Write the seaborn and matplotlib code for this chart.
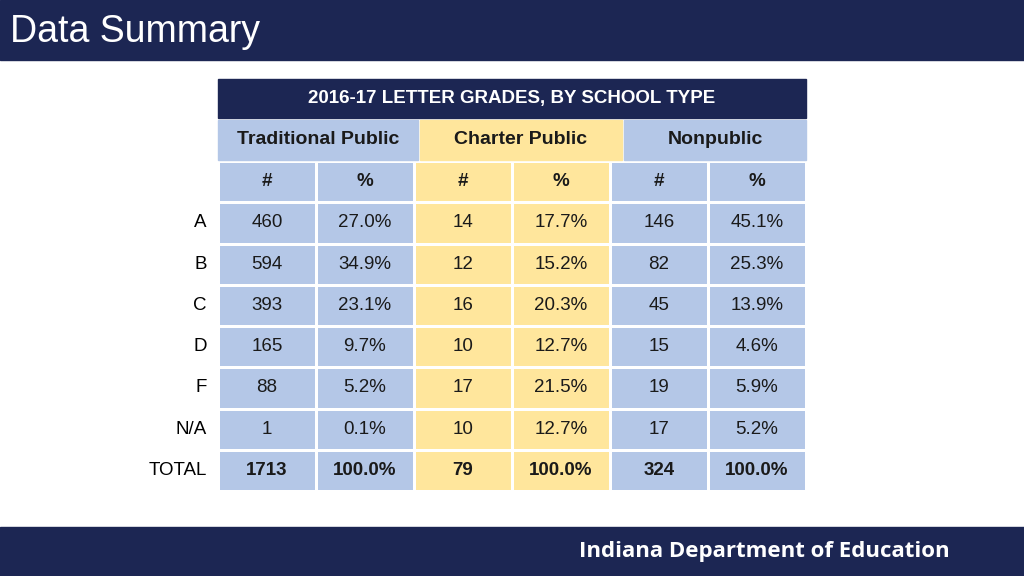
import numpy as np
import matplotlib.pyplot as plt
import seaborn as sns
from matplotlib.colors import ListedColormap
from matplotlib.patches import Rectangle

plt.rcParams["font.family"] = "Liberation Sans"

NAVY = "#1c2653"
BLUE = "#b4c7e7"
YELLOW = "#ffe69c"

title = "2016-17 LETTER GRADES, BY SCHOOL TYPE"
groups = ["Traditional Public", "Charter Public", "Nonpublic"]
grades = ["A", "B", "C", "D", "F", "N/A", "TOTAL"]
trad_n = ["460", "594", "393", "165", "88", "1", "1713"]
trad_p = ["27.0%", "34.9%", "23.1%", "9.7%", "5.2%", "0.1%", "100.0%"]
charter_n = ["14", "12", "16", "10", "17", "10", "79"]
charter_p = ["17.7%", "15.2%", "20.3%", "12.7%", "21.5%", "12.7%", "100.0%"]
nonpub_n = ["146", "82", "45", "15", "19", "17", "324"]
nonpub_p = ["45.1%", "25.3%", "13.9%", "4.6%", "5.9%", "5.2%", "100.0%"]

W, H = 1024, 576
fig = plt.figure(figsize=(W / 100, H / 100), dpi=100)
fig.patch.set_facecolor("white")

def fx(px):
    return px / W

def fy(py):
    return 1 - py / H

# top and bottom bars
fig.patches.append(Rectangle((0, fy(60)), 1, 60 / H, transform=fig.transFigure, color=NAVY, zorder=0))
fig.patches.append(Rectangle((0, 0), 1, 49 / H, transform=fig.transFigure, color=NAVY, zorder=0))
fig.text(fx(10), fy(32), "Data Summary", color="white", fontsize=27, va="center", ha="left")
fig.text(fx(950), fy(551), "Indiana Department of Education", color="white", fontsize=16,
         fontweight="bold", va="center", ha="right", family="Open Sans")

# table title and group header
fig.patches.append(Rectangle((fx(218), fy(118)), fx(806) - fx(218), 39 / H,
                             transform=fig.transFigure, color=NAVY))
fig.text(fx(512), fy(98), title, color="white", fontsize=13.5, fontweight="bold", ha="center", va="center")
gx = [(218, 418, BLUE), (420, 622, YELLOW), (624, 806, BLUE)]
for (x0, x1, c), g in zip(gx, groups):
    fig.patches.append(Rectangle((fx(x0), fy(160)), fx(x1) - fx(x0), 40 / H,
                                 transform=fig.transFigure, color=c))
    fig.text(fx((x0 + x1) / 2), fy(139), g, color="#1a1a1a", fontsize=14, fontweight="bold",
             ha="center", va="center")

# body via heatmap
cols = [trad_n, trad_p, charter_n, charter_p, nonpub_n, nonpub_p]
labels = [["#", "%", "#", "%", "#", "%"]] + [[c[i] for c in cols] for i in range(len(grades))]
group_idx = np.array([[0, 0, 1, 1, 0, 0]] * len(labels))

ax = fig.add_axes([fx(218), fy(491), fx(806) - fx(218), (491 - 161) / H])
sns.heatmap(group_idx, cmap=ListedColormap([BLUE, YELLOW]), cbar=False, linewidths=2,
            linecolor="white", ax=ax, xticklabels=False, yticklabels=[""] + grades)
ax.tick_params(axis="y", length=0, labelsize=13.5, pad=8, labelrotation=0)
for r, row in enumerate(labels):
    bold = r == 0 or r == len(labels) - 1
    for c, t in enumerate(row):
        ax.text(c + 0.5, r + 0.5, t, ha="center", va="center", fontsize=13.5,
                fontweight="bold" if bold else "normal", color="#1a1a1a")

fig.savefig("out.png", dpi=100)
